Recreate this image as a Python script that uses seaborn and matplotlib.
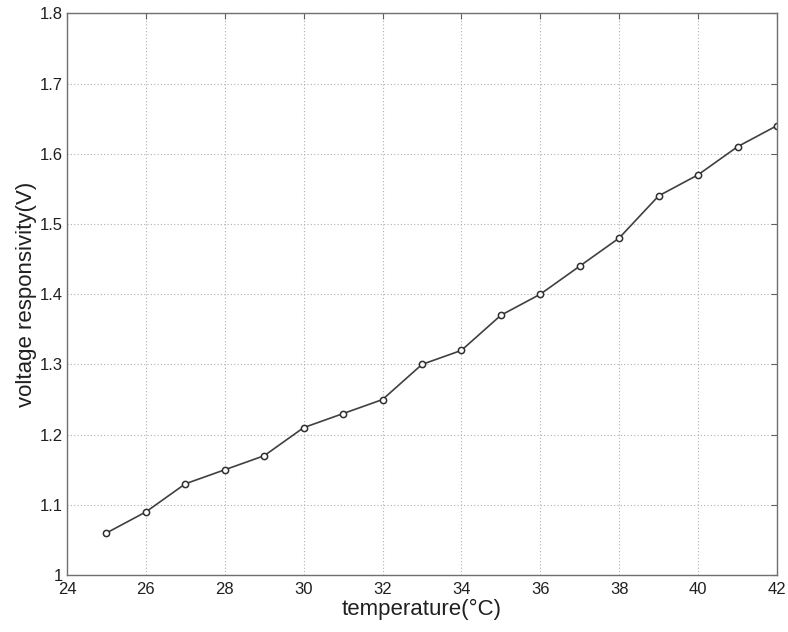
import matplotlib
matplotlib.use("Agg")
import matplotlib.pyplot as plt
import seaborn as sns
import pandas as pd

temperature = [25, 26, 27, 28, 29, 30, 31, 32, 33, 34, 35, 36, 37, 38, 39, 40, 41, 42]
voltage = [1.06, 1.09, 1.13, 1.15, 1.17, 1.21, 1.23, 1.25, 1.30, 1.32,
           1.37, 1.40, 1.44, 1.48, 1.54, 1.57, 1.61, 1.64]
x_ticks = [24, 26, 28, 30, 32, 34, 36, 38, 40, 42]
y_ticks = [1, 1.1, 1.2, 1.3, 1.4, 1.5, 1.6, 1.7, 1.8]
y_ticklabels = ["1", "1.1", "1.2", "1.3", "1.4", "1.5", "1.6", "1.7", "1.8"]

sns.set_style("white")
plt.rcParams['font.family'] = ['Liberation Sans', 'DejaVu Sans']

df = pd.DataFrame({"temperature": temperature, "voltage": voltage})

fig = plt.figure(figsize=(7.88, 6.32), dpi=100)
ax = fig.add_axes([0.085, 0.090, 0.901, 0.889])

sns.lineplot(data=df, x="temperature", y="voltage", ax=ax, color="#404040",
             linewidth=1.2, marker="o", markersize=4.5, markerfacecolor="white",
             markeredgecolor="#303030", markeredgewidth=1.1)

ax.set_xlim(24, 42)
ax.set_ylim(1, 1.8)
ax.set_xticks(x_ticks)
ax.set_yticks(y_ticks)
ax.set_yticklabels(y_ticklabels)
ax.grid(True, linestyle=(0, (1, 2)), color="#b0b0b0", linewidth=0.8)
ax.tick_params(direction="in", length=4, width=0.8, color="#606060",
               labelsize=12, top=True, right=True, labeltop=False, labelright=False,
               labelcolor="#202020")
ax.tick_params(axis="x", pad=5)
ax.tick_params(axis="y", pad=3)
for s in ax.spines.values():
    s.set_color("#707070")
    s.set_linewidth(1.0)

ax.set_xlabel("temperature(°C)", fontsize=16, color="#202020", labelpad=1)
ax.set_ylabel("voltage responsivity(V)", fontsize=16, color="#202020", labelpad=2)

fig.savefig("out.png", dpi=100)
